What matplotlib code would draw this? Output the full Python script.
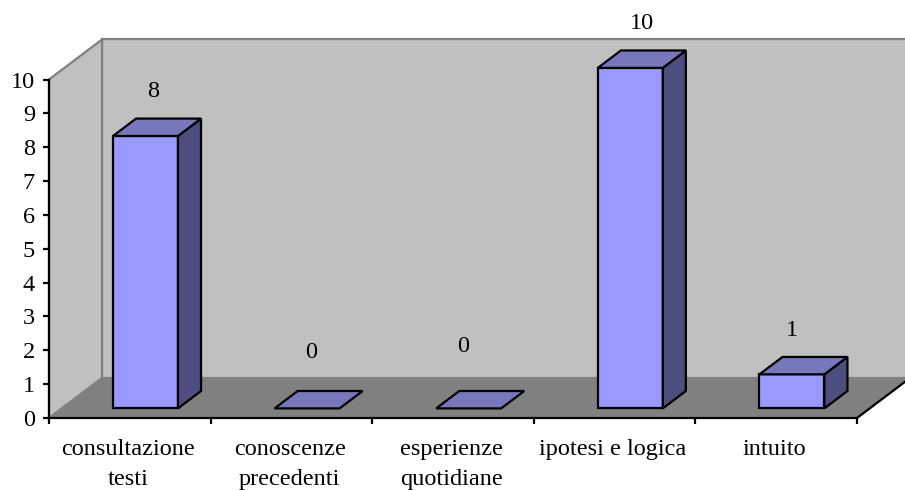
import matplotlib
matplotlib.use("Agg")
import matplotlib.pyplot as plt
from matplotlib.patches import Polygon

plt.rcParams['font.family'] = ['Liberation Serif', 'DejaVu Serif']

# --- Data ---
categories = ["consultazione\ntesti", "conoscenze\nprecedenti", "esperienze\nquotidiane",
              "ipotesi e logica", "intuito"]
values = [8, 0, 0, 10, 1]
y_ticks = list(range(0, 11))

# hand placed labels in the original: pixel nudge from the default spot
label_nudge = [(-15, -1), (-19, 11), (-29, 17), (-11, -1), (-23, -2)]

# --- Layout ---
W, H = 905, 490
AX_L, AX_R, AX_TOP, AX_BOT = 49, 857, 79.5, 418
DEPTH_X = 53 / ((AX_R - AX_L) / 5)      # wall depth in category units
DEPTH_Y = 40 / ((AX_BOT - AX_TOP) / 10)  # wall depth in value units
BAR_LEFT = 0.3175
BAR_WIDTH = 0.402
BAR_D0 = 0.24    # bar front, as a fraction of the floor depth
BAR_D1 = 0.675   # bar back
BAR_SCALE = 1.006  # bars come out a touch taller than the axis scale

WALL = '#C0C0C0'
FLOOR = '#808080'
FACE = '#9999FF'
TOP = '#7777BB'
SIDE = '#4D4D80'
LW = 1.6
FONT_SIZE = 17.5


def proj(x, y, d):
    """Project a point at floor depth d (0 front, 1 back) into data coords."""
    return (x + d * DEPTH_X, y + d * DEPTH_Y)


def add_poly(ax, pts, fc, ec='black', lw=LW, z=2):
    ax.add_patch(Polygon(pts, closed=True, fc=fc, ec=ec, lw=lw, zorder=z,
                         clip_on=False, joinstyle='miter'))


fig = plt.figure(figsize=(W / 100, H / 100), dpi=100)
ax = fig.add_axes([AX_L / W, 1 - AX_BOT / H, (AX_R - AX_L) / W, (AX_BOT - AX_TOP) / H])
ax.patch.set_visible(False)
ax.set_xlim(0, len(categories))
ax.set_ylim(0, 10)

# Walls and floor
n = len(categories)
add_poly(ax, [proj(0, 0, 1), proj(n, 0, 1), proj(n, 10, 1), proj(0, 10, 1)], WALL, FLOOR, 1.6, 1)
add_poly(ax, [proj(0, 0, 0), proj(0, 0, 1), proj(0, 10, 1), proj(0, 10, 0)], WALL, FLOOR, 1.6, 1)
add_poly(ax, [proj(0, 0, 0), proj(n, 0, 0), proj(n, 0, 1), proj(0, 0, 1)], FLOOR, FLOOR, 1.0, 1.5)
ax.plot(*zip(proj(n, 0, 0), proj(n, 0, 1)), color='black', lw=LW, clip_on=False, zorder=3)

# Bars
for i, v in enumerate(values):
    x0 = i + BAR_LEFT
    x1 = x0 + BAR_WIDTH
    h = v * BAR_SCALE
    if v > 0:
        add_poly(ax, [proj(x0, 0, BAR_D0), proj(x1, 0, BAR_D0), proj(x1, h, BAR_D0), proj(x0, h, BAR_D0)], FACE)
        add_poly(ax, [proj(x1, 0, BAR_D0), proj(x1, 0, BAR_D1), proj(x1, h, BAR_D1), proj(x1, h, BAR_D0)], SIDE)
    add_poly(ax, [proj(x0, h, BAR_D0), proj(x1, h, BAR_D0), proj(x1, h, BAR_D1), proj(x0, h, BAR_D1)], TOP)
    lx, ly = proj((x0 + x1) / 2, h, BAR_D1)
    dx, dy = label_nudge[i]
    ax.annotate(str(v), (lx, ly), xytext=(dx, 28 + dy), textcoords='offset pixels',
                ha='center', va='center', fontsize=FONT_SIZE, color='black', annotation_clip=False, zorder=5)

# Axes
for side in ('top', 'right'):
    ax.spines[side].set_visible(False)
for side in ('left', 'bottom'):
    ax.spines[side].set_linewidth(LW)
    ax.spines[side].set_zorder(4)
ax.set_yticks(y_ticks)
ax.set_xticks(range(n + 1))
ax.set_xticklabels([])
ax.set_xticks([i + 0.49 for i in range(n)], minor=True)
ax.set_xticklabels(categories, minor=True, fontsize=FONT_SIZE, linespacing=1.55)
ax.tick_params(axis='x', which='major', length=4, width=LW, direction='out')
ax.tick_params(axis='x', which='minor', length=0, pad=15)
ax.tick_params(axis='y', length=4, width=LW, labelsize=FONT_SIZE, pad=6)

fig.savefig("out.png", dpi=100)
